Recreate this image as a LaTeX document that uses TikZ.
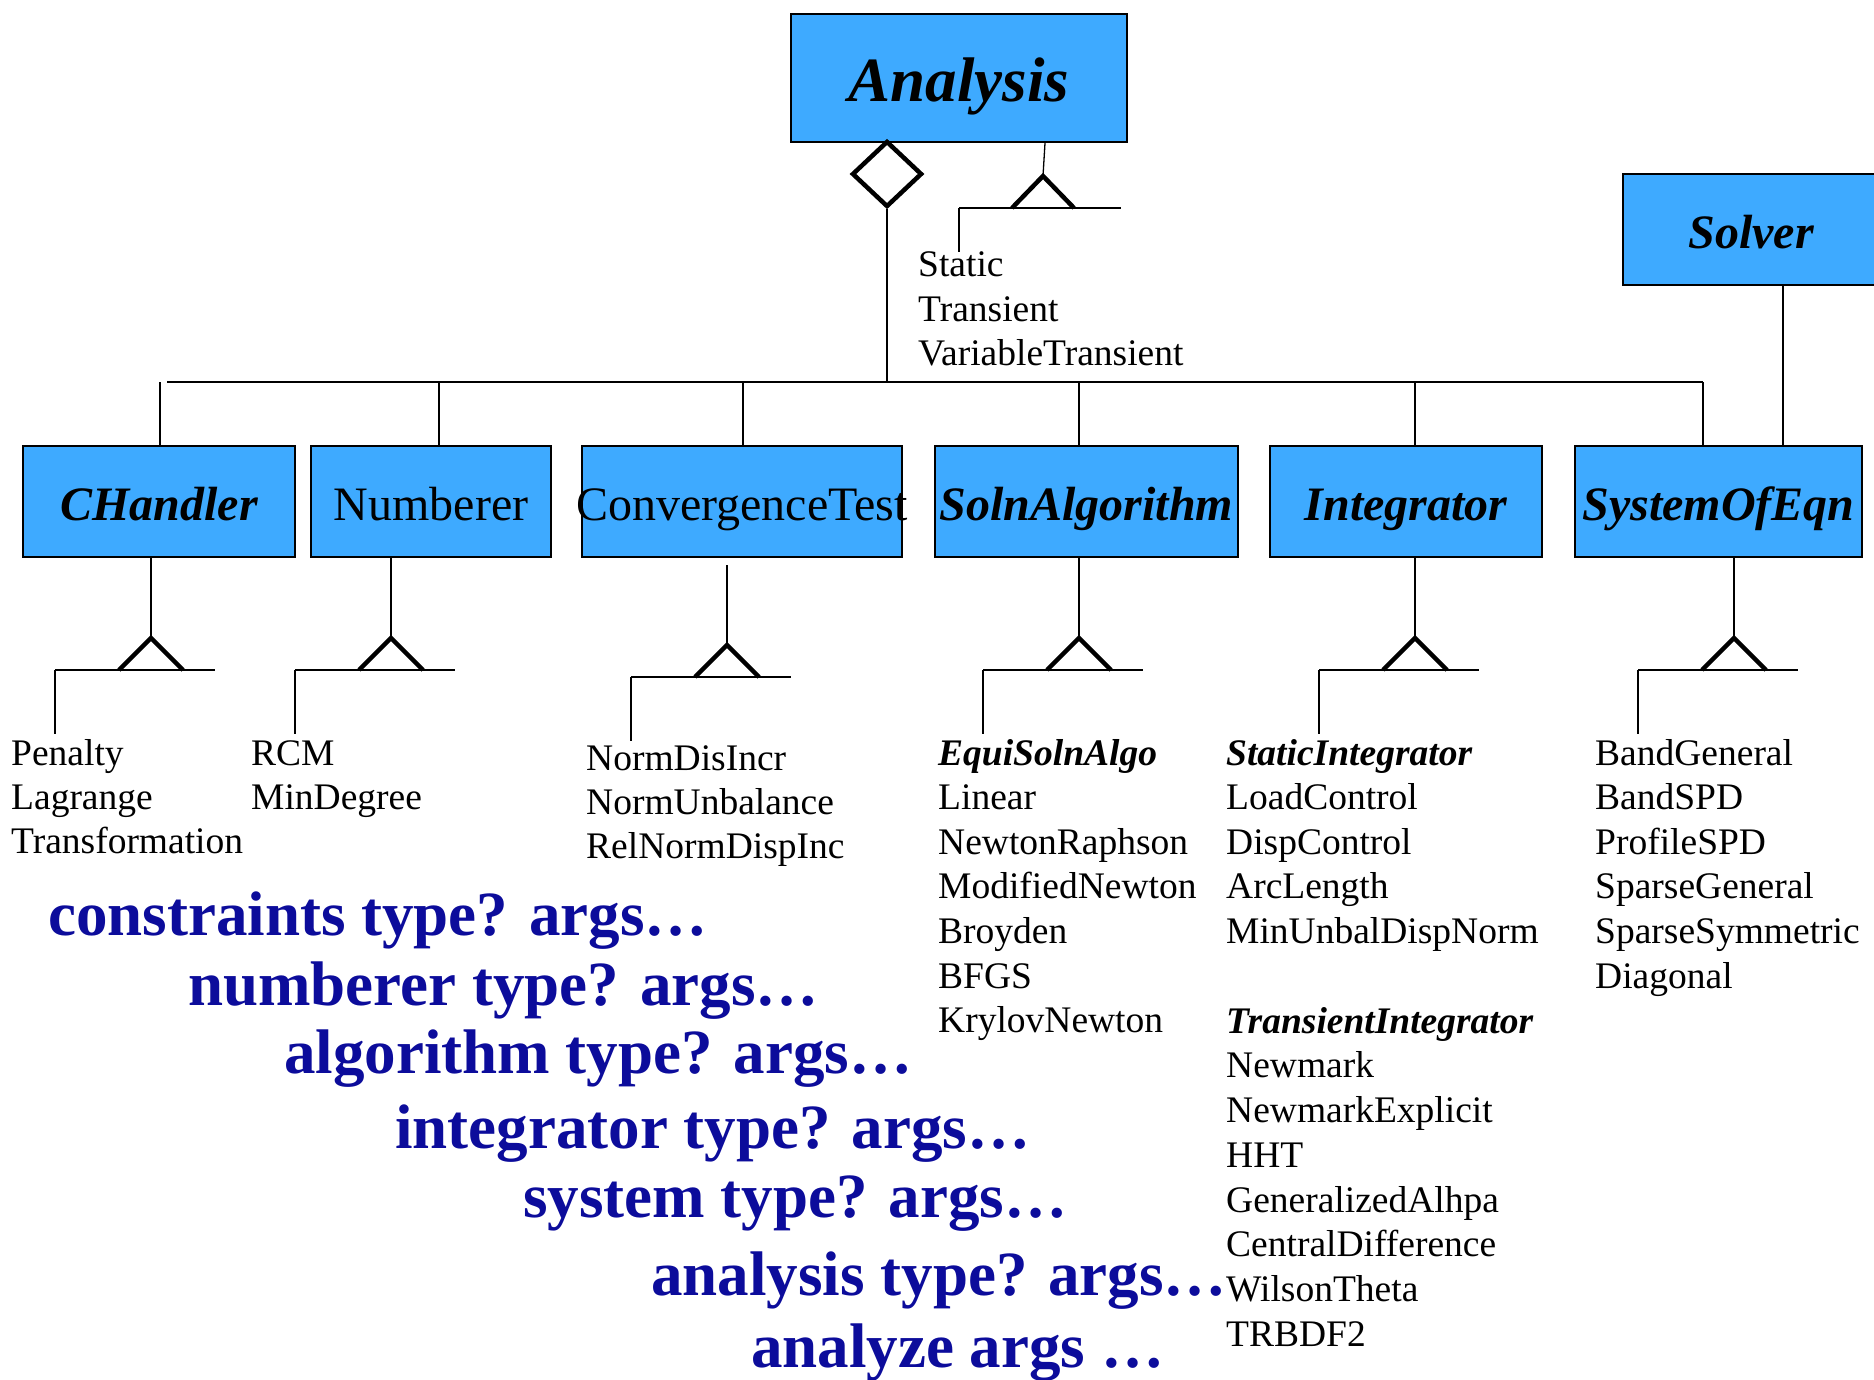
\documentclass[tikz,border=0pt]{standalone}
\usepackage{fontspec}
\setmainfont{Liberation Serif}
\usetikzlibrary{shapes.geometric,calc}
\definecolor{boxblue}{RGB}{62,170,255}
\definecolor{cmdblue}{RGB}{12,12,155}
\newcommand{\gsym}[3]{% node, xshift of apex, extra y gap
  \coordinate (#1-top) at ($(#1.south)+(#2,#3)$);
  \coordinate (#1-apex) at ($(#1.south)+(#2,80+#3)$);
  \coordinate (#1-bl) at ($(#1-apex)+(-32,32)$);
  \coordinate (#1-br) at ($(#1-apex)+(32,32)$);
  \coordinate (#1-hl) at ($(#1-apex)+(-96,32)$);
  \coordinate (#1-hr) at ($(#1-apex)+(64,32)$);
  \coordinate (#1-leg) at ($(#1-apex)+(-96,96)$);
  \draw[thin] (#1-top) -- (#1-apex);
  \draw[thin] (#1-hl) -- (#1-hr);
  \draw[thin] (#1-hl) -- (#1-leg);
  \draw[tri] (#1-bl) -- (#1-apex) -- (#1-br);
}
\begin{document}
\begin{tikzpicture}[x=1pt,y=-1pt,
  cls/.style={draw=black, line width=2pt, fill=boxblue, inner sep=0pt, minimum height=111pt,
    text height=42pt, text depth=5pt, font=\fontsize{48}{50}\selectfont},
  clsi/.style={cls, font=\fontsize{48}{50}\selectfont\bfseries\itshape},
  thin/.style={line width=1.3pt},
  tri/.style={line width=4.5pt, line join=miter},
  item/.style={anchor=base west, inner sep=0pt, font=\fontsize{37.5}{44}\selectfont},
  cmd/.style={anchor=base west, inner sep=0pt, text=cmdblue, font=\fontsize{63}{70}\selectfont\bfseries}]
\useasboundingbox (0,0) rectangle (1874,1380);

% classes
\node[clsi, minimum width=336pt, minimum height=128pt, text height=54pt, text depth=6pt,
  font=\fontsize{63}{70}\selectfont\bfseries\itshape] (analysis) at (959,78) {Analysis};
\node[clsi, minimum width=256pt] (solver) at (1751,230) {Solver};
\node[clsi, minimum width=272pt] (chandler) at (159,501.5) {CHandler};
\node[cls,  minimum width=240pt] (numberer) at (431,501.5) {Numberer};
\node[cls,  minimum width=320pt] (conv) at (742,501.5) {\makebox[300pt]{ConvergenceTest}};
\node[clsi, minimum width=303pt] (soln) at (1086.5,501.5) {SolnAlgorithm};
\node[clsi, minimum width=272pt] (integ) at (1406,501.5) {Integrator};
\node[clsi, minimum width=287pt] (soe) at (1718.5,501.5) {SystemOfEqn};

% aggregation
\node[diamond, draw=black, fill=white, line width=4.5pt, inner sep=0pt, minimum width=70pt,
  minimum height=66pt] (agg) at (887,174) {};
\coordinate (busL) at (167,382);
\coordinate (busR) at (1703,382);
\draw[thin] (busL) -- (busR);
\draw[thin] (agg.south) -- (agg.south |- busL);
\draw[thin] ([xshift=1pt]chandler.north) -- ([xshift=1pt]chandler.north |- busL);
\draw[thin] ([xshift=8pt]numberer.north) -- ([xshift=8pt]numberer.north |- busL);
\draw[thin] ([xshift=1pt]conv.north) -- ([xshift=1pt]conv.north |- busL);
\draw[thin] ([xshift=-7.5pt]soln.north) -- ([xshift=-7.5pt]soln.north |- busL);
\draw[thin] ([xshift=9pt]integ.north) -- ([xshift=9pt]integ.north |- busL);
\draw[thin] ([xshift=-15.5pt]soe.north) -- (busR);
\draw[thin] ([xshift=32pt]solver.south) -- ([xshift=32pt]solver.south |- soe.north);

% Analysis subclasses
\coordinate (aa-top) at ($(analysis.south)+(86,0)$);
\coordinate (aa-apex) at ($(analysis.south)+(84,33)$);
\coordinate (aa-bl) at ($(aa-apex)+(-31,32)$);
\coordinate (aa-br) at ($(aa-apex)+(31,32)$);
\coordinate (aa-hl) at ($(aa-apex)+(-84,32)$);
\coordinate (aa-hr) at ($(aa-apex)+(78,32)$);
\coordinate (aa-leg) at ($(aa-apex)+(-84,76)$);
\draw[thin] (aa-top) -- (aa-apex);
\draw[thin] (aa-hl) -- (aa-hr);
\draw[thin] (aa-hl) -- (aa-leg);
\draw[tri] (aa-bl) -- (aa-apex) -- (aa-br);
\foreach \t [count=\i from 0] in {Static,Transient,VariableTransient}
  \node[item] (an-\i) at (918,277+44.3*\i) {\t};

% generalisation symbols
\gsym{chandler}{-8}{0}
\gsym{numberer}{-40}{0}
\gsym{conv}{-15}{7}
\gsym{soln}{-7.5}{0}
\gsym{integ}{9}{0}
\gsym{soe}{15.5}{0}

% subclass lists
\foreach \t [count=\i from 0] in {Penalty,Lagrange,Transformation}
  \node[item] (ch-\i) at (11,765+44.4*\i) {\t};
\foreach \t [count=\i from 0] in {RCM,MinDegree}
  \node[item] (nu-\i) at (251,765+44.4*\i) {\t};
\foreach \t [count=\i from 0] in {NormDisIncr,NormUnbalance,RelNormDispInc}
  \node[item] (ct-\i) at (586,770+44.4*\i) {\t};
\foreach \t [count=\i from 0] in {{\bfseries\itshape EquiSolnAlgo},Linear,NewtonRaphson,ModifiedNewton,Broyden,BFGS,KrylovNewton}
  \node[item] (sa-\i) at (938,765+44.6*\i) {\t};
\foreach \t [count=\i from 0] in {{\bfseries\itshape StaticIntegrator},LoadControl,DispControl,ArcLength,MinUnbalDispNorm}
  \node[item] (si-\i) at (1226,765+44.6*\i) {\t};
\foreach \t [count=\i from 6] in {{\bfseries\itshape TransientIntegrator},Newmark,NewmarkExplicit,HHT,GeneralizedAlhpa,CentralDifference,WilsonTheta,TRBDF2}
  \node[item] (ti-\i) at (1226,765+44.7*\i) {\t};
\foreach \t [count=\i from 0] in {BandGeneral,BandSPD,ProfileSPD,SparseGeneral,SparseSymmetric,Diagonal}
  \node[item] (se-\i) at (1595,765+44.6*\i) {\t};

% commands
\node[cmd] (c1) at (48,935) {constraints type? args…};
\node[cmd] (c2) at (188,1005) {numberer type? args…};
\node[cmd] (c3) at (284,1073) {algorithm type? args…};
\node[cmd] (c4) at (395,1148) {integrator type? args…};
\node[cmd] (c5) at (523,1217) {system type? args…};
\node[cmd] (c6) at (651,1295) {analysis type? args…};
\node[cmd] (c7) at (751,1367) {analyze args …};
\end{tikzpicture}
\end{document}
